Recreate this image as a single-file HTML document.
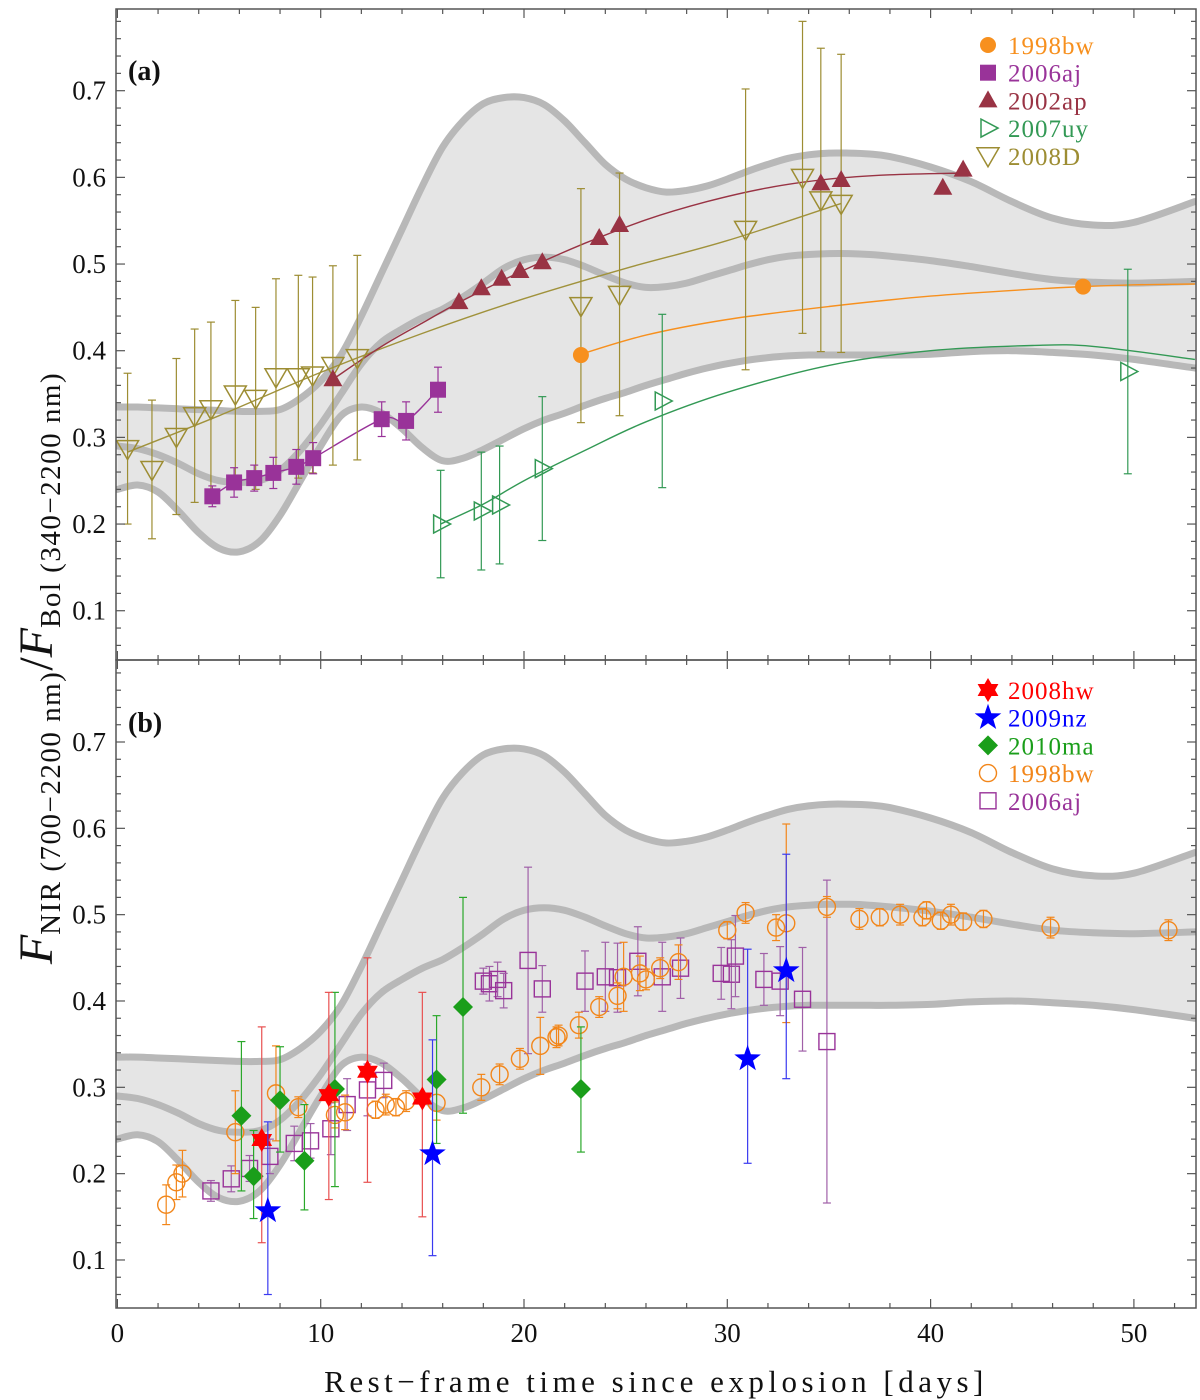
<!DOCTYPE html>
<html><head><meta charset="utf-8"><style>
html,body{margin:0;padding:0;background:#fff;}
svg{display:block;font-family:"Liberation Serif",serif;}
</style></head><body>
<svg id="chart" width="1200" height="1400" viewBox="0 0 1200 1400" xmlns="http://www.w3.org/2000/svg"></svg>
<script>
// ---- band (template envelope) data ----
const bandDays=[0,1,2,3,4,5,6,7,8,9,10,11,12,13,14,15,16,17,18,19,20,21,22,23,24,25,26,27,28,29,30,31,32,33,34,35,36,37,38,40,42,44,46,48,50,53];
const bandUpper=[0.335,0.335,0.334,0.333,0.332,0.331,0.330,0.330,0.332,0.345,0.365,0.395,0.44,0.49,0.54,0.59,0.635,0.665,0.685,0.692,0.692,0.684,0.665,0.64,0.615,0.598,0.588,0.583,0.585,0.59,0.598,0.607,0.615,0.622,0.626,0.628,0.628,0.627,0.624,0.612,0.595,0.572,0.553,0.545,0.548,0.572];
const bandMiddle=[0.29,0.287,0.28,0.27,0.258,0.25,0.248,0.25,0.262,0.285,0.315,0.35,0.385,0.41,0.425,0.438,0.448,0.462,0.478,0.495,0.505,0.508,0.505,0.497,0.487,0.478,0.473,0.474,0.478,0.485,0.492,0.499,0.505,0.509,0.511,0.512,0.512,0.511,0.509,0.504,0.497,0.489,0.482,0.479,0.478,0.48];
const bandLower=[0.24,0.245,0.237,0.215,0.19,0.172,0.168,0.18,0.21,0.25,0.29,0.325,0.335,0.328,0.31,0.288,0.273,0.276,0.286,0.298,0.31,0.32,0.328,0.337,0.345,0.352,0.36,0.367,0.374,0.38,0.385,0.389,0.392,0.394,0.395,0.395,0.395,0.395,0.395,0.396,0.399,0.4,0.398,0.395,0.39,0.38];

// ---- panel (a) ----
const a98Days=[22.8,47.5], a98Vals=[0.395,0.474];
const a98FitDays=[22.8,26,30,35,40,45,47.5,50,53], a98FitVals=[0.396,0.418,0.436,0.451,0.463,0.471,0.474,0.476,0.477];
const a06Days=[4.67,5.74,6.73,7.67,8.8,9.63,13.0,14.2,15.77];
const a06Vals=[0.232,0.248,0.253,0.259,0.266,0.276,0.321,0.319,0.355];
const a06Err=[0.012,0.017,0.015,0.018,0.02,0.018,0.02,0.022,0.026];
const a02Days=[10.6,16.8,17.9,18.9,19.8,20.9,23.7,24.7,34.6,35.6,40.6,41.6];
const a02Vals=[0.367,0.456,0.472,0.483,0.492,0.502,0.530,0.545,0.593,0.597,0.588,0.609];
const a02FitDays=[10.6,13,15,17,20,23,26,29,32,35,38,41.6], a02FitVals=[0.367,0.405,0.432,0.458,0.493,0.524,0.551,0.572,0.588,0.598,0.603,0.605];
const a07Days=[15.9,17.9,18.8,20.9,26.8,49.7];
const a07Vals=[0.200,0.215,0.222,0.264,0.342,0.376];
const a07Err=[0.062,0.068,0.068,0.083,0.1,0.118];
const a07FitDays=[15.9,18,20,23,26,30,35,40,45,48,53], a07FitVals=[0.2,0.223,0.25,0.285,0.318,0.352,0.383,0.4,0.406,0.405,0.39];
const a08Days=[0.5,1.7,2.9,3.8,4.6,5.8,6.8,7.8,8.9,9.6,10.6,11.8,22.8,24.7,30.9,33.7,34.6,35.6];
const a08Vals=[0.287,0.263,0.301,0.325,0.333,0.350,0.345,0.370,0.370,0.372,0.383,0.392,0.452,0.465,0.540,0.600,0.574,0.570];
const a08Err=[0.087,0.08,0.09,0.1,0.1,0.108,0.105,0.113,0.117,0.113,0.115,0.118,0.135,0.14,0.162,0.18,0.175,0.172];
const a08FitDays=[0.5,5,10,15,20,25,30,35.6], a08FitVals=[0.283,0.325,0.375,0.42,0.46,0.495,0.527,0.57];

// ---- panel (b) ----
const bHwDays=[7.1,10.4,12.3,15.0], bHwVals=[0.239,0.291,0.318,0.287], bHwLo=[0.12,0.17,0.19,0.15], bHwHi=[0.37,0.41,0.45,0.41];
const bNzDays=[7.4,15.5,31.0,32.9], bNzVals=[0.157,0.223,0.333,0.435], bNzLo=[0.06,0.105,0.212,0.31], bNzHi=[0.26,0.355,0.46,0.57];
const bMaDays=[6.1,6.7,8.0,9.2,10.7,15.7,17.0,22.8], bMaVals=[0.267,0.197,0.285,0.215,0.298,0.309,0.393,0.298];
const bMaLo=[0.18,0.148,0.225,0.158,0.185,0.235,0.27,0.225], bMaHi=[0.353,0.25,0.347,0.28,0.41,0.383,0.52,0.37];
const b98Days=[2.4,2.9,3.2,5.8,7.8,8.9,10.7,11.2,12.7,13.2,13.7,14.2,15.7,17.9,18.8,19.8,20.8,21.6,21.7,22.7,23.7,24.6,24.9,25.7,26.0,26.7,27.6,30.0,30.9,32.4,32.9,34.9,36.5,37.5,38.5,39.6,39.8,40.5,41.0,41.6,42.6,45.9,51.7];
const b98Vals=[0.164,0.19,0.2,0.248,0.293,0.277,0.268,0.271,0.274,0.28,0.277,0.284,0.282,0.30,0.315,0.333,0.348,0.358,0.36,0.372,0.393,0.406,0.428,0.432,0.425,0.438,0.445,0.482,0.502,0.485,0.49,0.509,0.495,0.497,0.5,0.497,0.505,0.493,0.5,0.492,0.495,0.485,0.482];
const b98Err=[0.023,0.02,0.027,0.048,0.055,0.012,0.015,0.02,0.01,0.012,0.01,0.012,0.02,0.015,0.012,0.012,0.033,0.012,0.012,0.015,0.012,0.015,0.04,0.02,0.012,0.012,0.02,0.01,0.012,0.015,0.115,0.012,0.012,0.01,0.012,0.01,0.01,0.01,0.012,0.01,0.01,0.012,0.012];
const b06Days=[4.6,5.6,6.5,7.5,8.7,9.5,10.5,11.3,12.3,13.1,18.0,18.3,18.7,19.0,20.2,20.9,23.0,24.0,24.6,25.6,26.8,27.7,29.7,30.2,30.4,31.8,32.6,33.7,34.9];
const b06Vals=[0.18,0.194,0.206,0.22,0.235,0.238,0.252,0.28,0.297,0.308,0.423,0.42,0.425,0.412,0.447,0.414,0.423,0.428,0.427,0.446,0.428,0.438,0.432,0.431,0.452,0.425,0.423,0.402,0.353];
const b06Err=[0.012,0.015,0.015,0.02,0.02,0.02,0.03,0.03,0.03,0.02,0.015,0.02,0.02,0.02,0.108,0.027,0.035,0.04,0.04,0.04,0.04,0.035,0.03,0.04,0.047,0.03,0.04,0.06,0.187];

const xTicks=[0,10,20,30,40,50];
const yTicks=[0.1,0.2,0.3,0.4,0.5,0.6,0.7];

// ---- geometry ----
const X0=117.4, PXD=20.33, XL=116, XR=1196;
const panels={a:{top:9,bot:660,y07:90.7,ppv:866.7},b:{top:660,bot:1308,y07:742,ppv:863.3}};
function xs(d){return X0+d*PXD;}
function ys(p,v){const P=panels[p];return P.y07-(v-0.7)*P.ppv;}
const svg=document.getElementById('chart');
const NS='http://www.w3.org/2000/svg';
function mk(tag,attrs,parent){const e=document.createElementNS(NS,tag);for(const k in attrs)e.setAttribute(k,attrs[k]);(parent||svg).appendChild(e);return e;}
function smooth(pts){let d='M'+pts[0][0].toFixed(1)+','+pts[0][1].toFixed(1);
 for(let i=0;i<pts.length-1;i++){const p0=pts[Math.max(0,i-1)],p1=pts[i],p2=pts[i+1],p3=pts[Math.min(pts.length-1,i+2)];
 const c1=[p1[0]+(p2[0]-p0[0])/6,p1[1]+(p2[1]-p0[1])/6],c2=[p2[0]-(p3[0]-p1[0])/6,p2[1]-(p3[1]-p1[1])/6];
 d+=' C'+c1[0].toFixed(1)+','+c1[1].toFixed(1)+' '+c2[0].toFixed(1)+','+c2[1].toFixed(1)+' '+p2[0].toFixed(1)+','+p2[1].toFixed(1);}return d;}
function curvePts(p,days,vals){return days.map((d,i)=>[xs(d),ys(p,vals[i])]);}

function drawPanel(p){
 const P=panels[p];
 const g=mk('g',{'clip-path':'url(#clip-'+p+')'});
 
 
 const cp=mk('clipPath',{id:'clip-'+p});
 mk('rect',{x:XL,y:P.top,width:XR-XL,height:P.bot-P.top},cp);
 const up=curvePts(p,bandDays,bandUpper), lo=curvePts(p,bandDays,bandLower).reverse();
 const fillD=smooth(up)+' L'+lo[0][0]+','+lo[0][1]+smooth(lo).replace(/^M[^C]*/,' ')+' Z';
 const f=mk('path',{d:fillD,fill:'#e5e5e5',stroke:'none'},g);
 
 
 [[bandUpper,'upper'],[bandMiddle,'middle'],[bandLower,'lower']].forEach(([arr,nm])=>{
  const c=mk('path',{d:smooth(curvePts(p,bandDays,arr)),fill:'none',stroke:'#b8b8b8','stroke-width':7,'stroke-linecap':'round'},g);
  
  
 });
 return g;
}
function frame(p){
 const P=panels[p];
 const r=mk('rect',{x:XL,y:P.top,width:XR-XL,height:P.bot-P.top,fill:'none',stroke:'#555','stroke-width':1.5});
 
 
 for(let d=0;d<=52;d+=2){const maj=d%10===0,L=maj?9:5;
  mk('line',{x1:xs(d),x2:xs(d),y1:P.bot,y2:P.bot-L,stroke:'#555','stroke-width':1.2});
  mk('line',{x1:xs(d),x2:xs(d),y1:P.top,y2:P.top+L,stroke:'#555','stroke-width':1.2});}
 for(let k=3;k<=39;k++){const v=k*0.02;const y=ys(p,v);if(y<P.top+1||y>P.bot-1)continue;const maj=k%5===0,L=maj?9:5;
  mk('line',{x1:XL,x2:XL+L,y1:y,y2:y,stroke:'#555','stroke-width':1.2});
  mk('line',{x1:XR,x2:XR-L,y1:y,y2:y,stroke:'#555','stroke-width':1.2});}
 yTicks.forEach(v=>{const t=mk('text',{x:106,y:ys(p,v)+9,'text-anchor':'end','font-size':27,fill:'#111'});t.textContent=v.toFixed(1);
  
  });
}
function errbar(g,x,y1,y2,col,w){const sw=w||1.2;
 mk('line',{x1:x,x2:x,y1:y1,y2:y2,stroke:col,'stroke-width':sw},g);
 mk('line',{x1:x-4,x2:x+4,y1:y1,y2:y1,stroke:col,'stroke-width':sw},g);
 mk('line',{x1:x-4,x2:x+4,y1:y2,y2:y2,stroke:col,'stroke-width':sw},g);}
function marker(g,type,x,y,col,s){
 s=s||1;let e;
 if(type==='circle')e=mk('circle',{cx:x,cy:y,r:8*s,fill:col},g);
 else if(type==='ocircle')e=mk('circle',{cx:x,cy:y,r:8.5*s,fill:'none',stroke:col,'stroke-width':1.4},g);
 else if(type==='square')e=mk('rect',{x:x-8*s,y:y-8*s,width:16*s,height:16*s,fill:col},g);
 else if(type==='osquare')e=mk('rect',{x:x-8*s,y:y-8*s,width:16*s,height:16*s,fill:'none',stroke:col,'stroke-width':1.4},g);
 else if(type==='tri')e=mk('polygon',{points:`${x},${y-10*s} ${x+9.5*s},${y+7*s} ${x-9.5*s},${y+7*s}`,fill:col},g);
 else if(type==='rtri')e=mk('polygon',{points:`${x+10*s},${y} ${x-7*s},${y-9*s} ${x-7*s},${y+9*s}`,fill:'none',stroke:col,'stroke-width':1.5},g);
 else if(type==='dtri')e=mk('polygon',{points:`${x},${y+11*s} ${x-11*s},${y-8*s} ${x+11*s},${y-8*s}`,fill:'none',stroke:col,'stroke-width':1.5},g);
 else if(type==='diamond')e=mk('polygon',{points:`${x},${y-10*s} ${x+10*s},${y} ${x},${y+10*s} ${x-10*s},${y}`,fill:col},g);
 else if(type==='star6'){const r=12*s;let pts=[];for(let i=0;i<12;i++){const a=Math.PI/6*i-Math.PI/2,rr=i%2?r*0.58:r;pts.push((x+rr*Math.cos(a)).toFixed(1)+','+(y+rr*Math.sin(a)).toFixed(1));}e=mk('polygon',{points:pts.join(' '),fill:col},g);}
 else if(type==='star5'){const r=14*s;let pts=[];for(let i=0;i<10;i++){const a=Math.PI/5*i-Math.PI/2,rr=i%2?r*0.4:r;pts.push((x+rr*Math.cos(a)).toFixed(1)+','+(y+rr*Math.sin(a)).toFixed(1));}e=mk('polygon',{points:pts.join(' '),fill:col},g);}
 return e;
}
function fitLine(g,p,days,vals,col,name){const e=mk('path',{d:smooth(curvePts(p,days,vals)),fill:'none',stroke:col,'stroke-width':1.4},g);
 
 }
function series(p,name,days,vals,lo,hi,type,col,ecol){
 const g=mk('g',{});
 
 
 days.forEach((d,i)=>{const x=xs(d),y=ys(p,vals[i]);
  if(lo)errbar(g,x,ys(p,lo[i]),ys(p,hi[i]),ecol||col);
  const m=marker(g,type,x,y,col);
  
  
 });
}
function symErr(vals,err,sign){return vals.map((v,i)=>v+sign*err[i]);}

// ---- Panel A ----
const ga=drawPanel('a');
fitLine(ga,'a',a08FitDays,a08FitVals,'#a0923c','fit-2008D');
fitLine(ga,'a',a02FitDays,a02FitVals,'#993344','fit-2002ap');
fitLine(ga,'a',a98FitDays,a98FitVals,'#f7901e','fit-1998bw');
fitLine(ga,'a',a07FitDays,a07FitVals,'#339955','fit-2007uy');
fitLine(ga,'a',a06Days,a06Vals,'#993399','fit-2006aj');
series('a','series-2008D',a08Days,a08Vals,symErr(a08Vals,a08Err,-1),symErr(a08Vals,a08Err,1),'dtri','#9d8d33');
series('a','series-2007uy',a07Days,a07Vals,symErr(a07Vals,a07Err,-1),symErr(a07Vals,a07Err,1),'rtri','#339955');
series('a','series-2006aj',a06Days,a06Vals,symErr(a06Vals,a06Err,-1),symErr(a06Vals,a06Err,1),'square','#993399');
series('a','series-2002ap',a02Days,a02Vals,null,null,'tri','#993344');
series('a','series-1998bw',a98Days,a98Vals,null,null,'circle','#f7901e');
frame('a');

// ---- Panel B ----
drawPanel('b');
series('b','series-b-2006aj',b06Days,b06Vals,symErr(b06Vals,b06Err,-1),symErr(b06Vals,b06Err,1),'osquare','#993399','#a060a8');
series('b','series-b-1998bw',b98Days,b98Vals,symErr(b98Vals,b98Err,-1),symErr(b98Vals,b98Err,1),'ocircle','#f2861a');
series('b','series-2010ma',bMaDays,bMaVals,bMaLo,bMaHi,'diamond','#1a9e1a','#2aa82a');
series('b','series-2008hw',bHwDays,bHwVals,bHwLo,bHwHi,'star6','#ff0000','#e85050');
series('b','series-2009nz',bNzDays,bNzVals,bNzLo,bNzHi,'star5','#0000ff','#3a3af0');
frame('b');

// x tick labels
xTicks.forEach(d=>{const t=mk('text',{x:xs(d),y:1342,'text-anchor':'middle','font-size':27,fill:'#111'});t.textContent=d;
 
 });

// legends
function legend(p,entries,top){
 const g=mk('g',{});
 
 
 entries.forEach((e,i)=>{const y=top+i*27.7;
  const m=marker(g,e[1],988,y,e[2],1);
  
  
  const t=mk('text',{x:1008,y:y+9,'font-size':25,fill:e[2],'letter-spacing':'1'},g);t.textContent=e[0];
  
  });
}
legend('a',[['1998bw','circle','#f7901e'],['2006aj','square','#993399'],['2002ap','tri','#993344'],['2007uy','rtri','#339955'],['2008D','dtri','#9d8d33']],45);
legend('b',[['2008hw','star6','#ff0000'],['2009nz','star5','#0000ff'],['2010ma','diamond','#1a9e1a'],['1998bw','ocircle','#f2861a'],['2006aj','osquare','#993399']],690);

// panel labels
const la=mk('text',{x:128,y:80,'font-size':28,'font-weight':'bold',fill:'#111'});la.textContent='(a)';


const lb=mk('text',{x:128,y:732,'font-size':28,'font-weight':'bold',fill:'#111'});lb.textContent='(b)';



// axis titles
const xt=mk('text',{x:656,y:1392,'text-anchor':'middle','font-size':31,fill:'#111','letter-spacing':'4.5'});xt.textContent='Rest\u2212frame time since explosion [days]';


const yt=mk('text',{x:0,y:0,'text-anchor':'middle','font-size':28,fill:'#111',transform:'translate(52,668) rotate(-90)'});
yt.innerHTML='<tspan font-style="italic" font-size="48">F</tspan><tspan font-size="29" dy="8" letter-spacing="1.5">NIR (700\u22122200 nm)</tspan><tspan font-size="48" dy="-8">/</tspan><tspan font-style="italic" font-size="48">F</tspan><tspan font-size="29" dy="8" letter-spacing="1.5">Bol (340\u22122200 nm)</tspan>';


</script>
</body></html>
